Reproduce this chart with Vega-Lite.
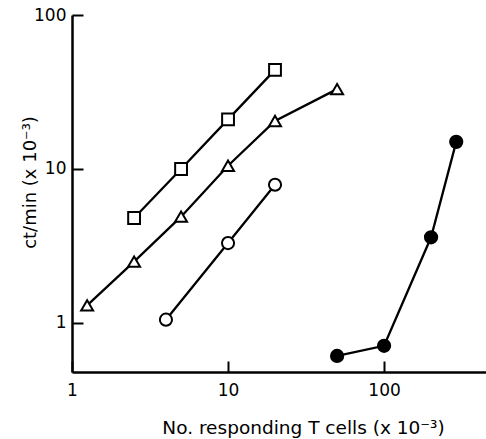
{
  "$schema": "https://vega.github.io/schema/vega-lite/v6.json",
  "autosize": "none",
  "width": 414,
  "height": 357,
  "padding": {"left": 72, "top": 15, "right": 0, "bottom": 67},
  "background": "white",
  "config": {
    "view": {"stroke": null},
    "font": "DejaVu Sans"
  },
  "data": {
    "values": [
      {"series": "square", "x": 2.5, "y": 4.8},
      {"series": "square", "x": 5, "y": 10},
      {"series": "square", "x": 10, "y": 21},
      {"series": "square", "x": 20, "y": 44},
      {"series": "triangle", "x": 1.25, "y": 1.3},
      {"series": "triangle", "x": 2.5, "y": 2.5},
      {"series": "triangle", "x": 5, "y": 4.9},
      {"series": "triangle", "x": 10, "y": 10.5},
      {"series": "triangle", "x": 20, "y": 20.5},
      {"series": "triangle", "x": 50, "y": 33},
      {"series": "open circle", "x": 4, "y": 1.05},
      {"series": "open circle", "x": 10, "y": 3.3},
      {"series": "open circle", "x": 20, "y": 7.9},
      {"series": "filled circle", "x": 50, "y": 0.61},
      {"series": "filled circle", "x": 100, "y": 0.71},
      {"series": "filled circle", "x": 200, "y": 3.6},
      {"series": "filled circle", "x": 290, "y": 15}
    ]
  },
  "encoding": {
    "x": {
      "field": "x", "type": "quantitative",
      "scale": {"type": "log", "domain": [1, 450], "nice": false},
      "axis": {
        "values": [1, 10, 100],
        "format": "~g",
        "title": "No. responding T cells (x 10⁻³)",
        "titleFont": "DejaVu Sans",
        "titleFontSize": 18.5,
        "titleFontWeight": "normal",
        "titleColor": "black",
        "titleBaseline": "middle",
        "titleX": 231,
        "titleY": 55,
        "labelFont": "DejaVu Sans",
        "labelFontSize": 17,
        "labelColor": "black",
        "labelPadding": 21,
        "domainColor": "black",
        "domainWidth": 2.5,
        "tickColor": "black",
        "tickWidth": 2,
        "tickSize": -11,
        "grid": false,
        "labelFlush": false
      }
    },
    "y": {
      "field": "y", "type": "quantitative",
      "scale": {"type": "log", "domain": [0.48, 100], "nice": false},
      "axis": {
        "values": [1, 10, 100],
        "format": "~g",
        "title": "ct/min (x 10⁻³)",
        "titleFont": "DejaVu Sans",
        "titleFontSize": 18,
        "titleFontWeight": "normal",
        "titleColor": "black",
        "titleBaseline": "middle",
        "titleX": -42,
        "titleY": 167,
        "labelFont": "DejaVu Sans",
        "labelFontSize": 17,
        "labelColor": "black",
        "labelPadding": 17,
        "domainColor": "black",
        "domainWidth": 2.5,
        "tickColor": "black",
        "tickWidth": 2,
        "tickSize": -11,
        "grid": false,
        "labelFlush": false
      }
    }
  },
  "layer": [
    {
      "mark": {"type": "line", "color": "black", "strokeWidth": 2.3},
      "encoding": {"detail": {"field": "series"}}
    },
    {
      "mark": {"type": "point", "filled": true, "stroke": "black", "strokeWidth": 2, "opacity": 1},
      "encoding": {
        "shape": {
          "field": "series", "type": "nominal", "legend": null,
          "scale": {"domain": ["square", "triangle", "open circle", "filled circle"], "range": ["square", "triangle-up", "circle", "circle"]}
        },
        "fill": {
          "field": "series", "type": "nominal", "legend": null,
          "scale": {"domain": ["square", "triangle", "open circle", "filled circle"], "range": ["white", "white", "white", "black"]}
        },
        "size": {
          "field": "series", "type": "nominal", "legend": null,
          "scale": {"domain": ["square", "triangle", "open circle", "filled circle"], "range": [140, 150, 140, 190]}
        }
      }
    }
  ]
}
